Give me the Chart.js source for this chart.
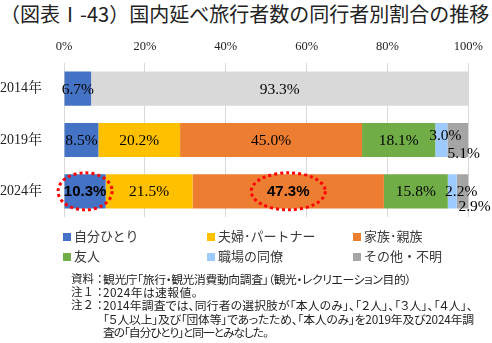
<!DOCTYPE html>
<html lang="ja">
<head>
<meta charset="UTF-8">
<title>国内延べ旅行者数の同行者別割合の推移</title>
<style>
  body {
    margin: 0;
    width: 492px;
    height: 343px;
    background: #fff;
    position: relative;
    overflow: hidden;
    font-family: 'Noto Sans CJK JP', sans-serif;
  }
  #title {
    position: absolute;
    left: 0;
    top: 0;
    font-size: 20px;
    line-height: 28px;
    color: #222;
    white-space: nowrap;
  }
  #chart {
    position: absolute;
    left: 0;
    top: 0;
  }
  #legend {
    position: absolute;
    left: 63px;
    top: 226px;
    display: grid;
    grid-template-columns: 144px 146px 120px;
    font-size: 13px;
    line-height: 20px;
    color: #3a3a3a;
    white-space: nowrap;
  }
  #legend .box {
    display: inline-block;
    width: 8px;
    height: 8px;
    margin-right: 3px;
    vertical-align: 0px;
  }
  #notes {
    position: absolute;
    left: 71px;
    top: 272px;
    font-size: 11.8px;
    line-height: 13.2px;
    color: #222;
    white-space: nowrap;
  }
  #notes .row { display: flex; }
  #notes .head { width: 32px; flex: none; font-size: 11.5px; }
  #notes .txt { font-feature-settings: "palt"; }
</style>
</head>
<body>
<div id="title">（図表Ⅰ-43）国内延べ旅行者数の同行者別割合の推移</div>
<canvas id="chart" width="492" height="343"></canvas>
<div id="legend"></div>
<div id="notes">
  <div class="row"><span class="head">資料：</span><span class="txt">観光庁「旅行・観光消費動向調査」（観光・レクリエーション目的）</span></div>
  <div class="row"><span class="head">注１：</span><span class="txt">2024年は速報値。</span></div>
  <div class="row"><span class="head">注２：</span><span class="txt">2014年調査では、同行者の選択肢が「本人のみ」、「２人」、「３人」、「４人」、</span></div>
  <div class="row"><span class="head"></span><span class="txt">「５人以上」及び「団体等」であったため、「本人のみ」を2019年及び2024年調</span></div>
  <div class="row"><span class="head"></span><span class="txt">査の「自分ひとり」と同一とみなした。</span></div>
</div>

<script src="https://cdn.jsdelivr.net/npm/chart.js"></script>
<script>
    // data
    const years = ['2014年', '2019年', '2024年'];
    const seriesNames = ['自分ひとり', '夫婦･パートナー', '家族･親族', '友人', '職場の同僚', 'その他・不明'];
    const alone = [6.7, 8.5, 10.3];
    const couple = [null, 20.2, 21.5];
    const family = [null, 45.0, 47.3];
    const friends = [null, 18.1, 15.8];
    const coworkers = [null, 3.0, 2.2];
    const other = [93.3, 5.1, 2.9];
    const xTicks = [0, 20, 40, 60, 80, 100];

    const colors = ['#4472C4', '#FFC000', '#ED7D31', '#70AD47', '#9DCBFF', '#A5A5A5'];
    const series = [alone, couple, family, friends, coworkers, other];

    // legend (3 columns, like the original)
    const legendEl = document.getElementById('legend');
    seriesNames.forEach((name, i) => {
        const item = document.createElement('div');
        item.innerHTML = '<span class="box" style="background:' + colors[i] + '"></span>' + name;
        legendEl.appendChild(item);
    });

    // stretch each note line so it ends where the original line ends
    const noteEnds = [411, 198, 473, 474, 268];
    function fitNotes() {
        document.querySelectorAll('#notes .txt').forEach((el, i) => {
            el.style.letterSpacing = '0px';
            const r = el.getBoundingClientRect();
            const n = el.textContent.length;
            const extra = (noteEnds[i] - r.right) / n;
            el.style.letterSpacing = extra.toFixed(2) + 'px';
        });
    }
    fitNotes();
    if (document.fonts) document.fonts.ready.then(fitNotes);

    // small labels that sit beside the bars, and the bold ones
    const labelShift = {
        '4-1': [4, -5],
        '5-1': [6, 13],
        '4-2': [9, 0],
        '5-2': [12, 15]
    };
    const boldLabels = ['0-2', '2-2'];
    const rings = { '0-2': 27, '2-2': 37 };

    const barLabels = {
        id: 'barLabels',
        afterDatasetsDraw(chart) {
            const ctx = chart.ctx;
            ctx.save();
            ctx.textAlign = 'center';
            ctx.textBaseline = 'middle';
            chart.data.datasets.forEach((ds, i) => {
                const meta = chart.getDatasetMeta(i);
                meta.data.forEach((bar, j) => {
                    const v = ds.data[j];
                    if (v == null) return;
                    const key = i + '-' + j;
                    const shift = labelShift[key] || [0, 0];
                    const cx = (bar.x + bar.base) / 2 + shift[0];
                    const cy = bar.y + shift[1];
                    ctx.fillStyle = '#000';
                    ctx.font = boldLabels.includes(key)
                        ? "bold 15px 'Liberation Sans', sans-serif"
                        : "15.5px 'Liberation Serif', serif";
                    ctx.fillText(v.toFixed(1) + '%', cx, cy + 1);
                    if (rings[key]) {
                        ctx.beginPath();
                        ctx.ellipse(cx, cy, rings[key], 18.5, 0, 0, Math.PI * 2);
                        ctx.strokeStyle = '#FF0000';
                        ctx.lineWidth = 3;
                        ctx.setLineDash([3, 3]);
                        ctx.stroke();
                        ctx.setLineDash([]);
                    }
                });
            });
            ctx.restore();
        }
    };

    new Chart(document.getElementById('chart'), {
        type: 'bar',
        data: {
            labels: years,
            datasets: series.map((data, i) => ({
                label: seriesNames[i],
                data: data,
                backgroundColor: i === 5 ? ['#D9D9D9', colors[5], colors[5]] : colors[i],
                borderWidth: 0,
                categoryPercentage: 1,
                barPercentage: 0.667
            }))
        },
        options: {
            indexAxis: 'y',
            responsive: false,
            animation: false,
            layout: { padding: { left: 0, top: 0, right: 21, bottom: 126 } },
            plugins: {
                legend: { display: false },
                tooltip: { enabled: false }
            },
            scales: {
                x: {
                    position: 'top',
                    stacked: true,
                    min: 0,
                    max: 100,
                    afterFit(scale) { scale.height = 63; },
                    afterBuildTicks(scale) { scale.ticks = xTicks.map(v => ({ value: v })); },
                    grid: { color: '#D9D9D9', lineWidth: 1, drawTicks: false },
                    border: { display: false },
                    ticks: {
                        padding: 9,
                        color: '#222',
                        font: { family: "'Liberation Serif', serif", size: 12.5 },
                        callback: v => v + '%'
                    }
                },
                y: {
                    stacked: true,
                    afterFit(scale) { scale.width = 64; },
                    grid: { display: false },
                    border: { display: false },
                    ticks: {
                        padding: 14,
                        color: '#222',
                        font: { family: "'Liberation Serif', 'Noto Serif CJK JP', 'Noto Sans CJK JP', serif", size: 14 }
                    }
                }
            }
        },
        plugins: [barLabels]
    });
</script>
</body>
</html>
